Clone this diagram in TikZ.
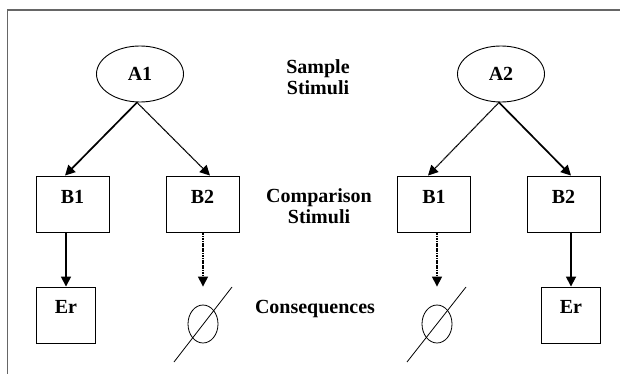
\documentclass[tikz,border=0pt]{standalone}
\usepackage{fontspec}
\setmainfont{Liberation Serif}
\usetikzlibrary{arrows.meta,shapes.geometric}
\begin{document}
\begin{tikzpicture}[x=1pt,y=-1pt,
  lbl/.style={font=\bfseries\fontsize{20}{21}\selectfont},
  samp/.style={draw,ellipse,line width=0.9pt,minimum width=87pt,minimum height=56pt,inner sep=0pt,lbl},
  bbox/.style={draw,rectangle,line width=0.9pt,minimum width=73pt,inner sep=0pt,text height=27pt,text depth=29pt,lbl},
  ebox/.style={draw,rectangle,line width=0.9pt,minimum width=59pt,inner sep=0pt,text height=26pt,text depth=30pt,lbl},
  nullc/.style={draw,ellipse,line width=0.8pt,minimum width=30pt,minimum height=38pt,inner sep=0pt},
  slash/.style={line width=0.8pt},
  solidarr/.style={line width=1.7pt,-{Triangle[length=10pt,width=10pt]}},
  dotarr/.style={line width=1.2pt,dash pattern=on 1.2pt off 0.5pt,-{Triangle[length=10pt,width=10pt]}},
  frameline/.style={draw=black!60,line width=1.5pt}
]
\useasboundingbox (0,0) rectangle (620,374);
\coordinate (fbl) at (7.5,374);
\coordinate (ftl) at (7.5,10);
\coordinate (ftr) at (620,10);
\draw[frameline] (fbl) -- (ftl) -- (ftr);

% left group
\node[samp] (A1) at (140,74) {A1};
\node[bbox] (B1L) at (72.5,204) {B1};
\node[bbox] (B2L) at (202.5,204) {B2};
\node[ebox] (ErL) at (66,315) {Er};
\node[nullc] (N1) at (203,324) {};
\draw[slash] (N1.center) ++(-29,38) -- ++(58,-75);

% right group
\node[samp] (A2) at (501,74) {A2};
\node[bbox] (B1R) at (434,204) {B1};
\node[bbox] (B2R) at (563.5,204) {B2};
\node[ebox] (ErR) at (571,315) {Er};
\node[nullc] (N2) at (437,324) {};
\draw[slash] (N2.center) ++(-30,38) -- ++(59,-75);

% middle labels
\node[lbl,align=center] (samplbl) at (318,77) {Sample\\Stimuli};
\node[lbl,align=center] (complbl) at (319,206) {Comparison\\Stimuli};
\node[lbl,anchor=base] (conslbl) at (315,313) {Consequences};

% arrows left
\draw[solidarr] ([xshift=-3pt]A1.south) -- ([xshift=-7.5pt]B1L.north);
\draw[dotarr] ([xshift=-3pt]A1.south) -- ([xshift=7.5pt]B2L.north);
\draw[solidarr] (B1L.south -| ErL.north) -- (ErL.north);
\draw[dotarr] (B2L.south -| N1.north) -- ([yshift=18pt]N1.north);

% arrows right
\draw[dotarr] ([xshift=-2pt]A2.south) -- ([xshift=-6pt]B1R.north);
\draw[solidarr] ([xshift=-2pt]A2.south) -- ([xshift=7.5pt]B2R.north);
\draw[dotarr] (B1R.south -| N2.north) -- ([yshift=18pt]N2.north);
\draw[solidarr] (B2R.south -| ErR.north) -- (ErR.north);
\end{tikzpicture}
\end{document}
